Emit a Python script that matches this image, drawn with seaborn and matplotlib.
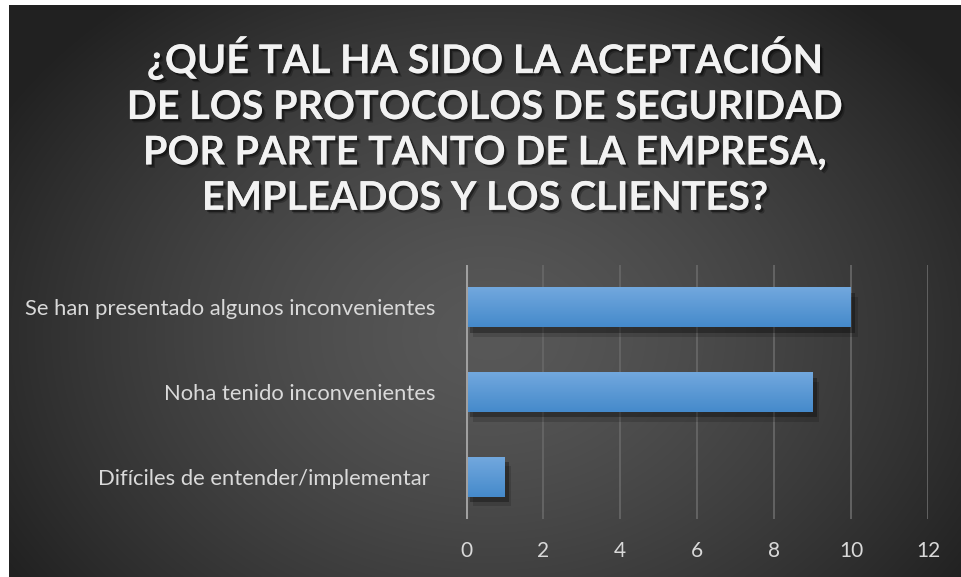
import numpy as np
import pandas as pd
import matplotlib
matplotlib.use("Agg")
import matplotlib.pyplot as plt
import matplotlib.patheffects as pe
import seaborn as sns

categories = [
    "Se han presentado algunos inconvenientes",
    "Noha tenido inconvenientes",
    "Difíciles de entender/implementar ",
]
values = [10, 9, 1]
x_ticks = [0, 2, 4, 6, 8, 10, 12]
title = ("¿QUÉ TAL HA SIDO LA ACEPTACIÓN\nDE LOS PROTOCOLOS DE SEGURIDAD\n"
         "POR PARTE TANTO DE LA EMPRESA,\nEMPLEADOS Y LOS CLIENTES?")

sns.set_theme(style="dark")
plt.rcParams["font.family"] = ["Lato", "DejaVu Sans"]

W, H = 961, 577
fig = plt.figure(figsize=(W / 100, H / 100), dpi=100)
fig.patch.set_facecolor("white")

# background with radial gradient
bg = fig.add_axes([9 / W, 0, 1 - 9 / W, 1 - 5 / H])
bg.set_axis_off()
yy, xx = np.mgrid[0:572, 0:952]
cx, cy = 480, 330
d = np.sqrt(((xx - cx) / 560.0) ** 2 + ((yy - cy) / 430.0) ** 2)
lum = np.clip(0.345 - 0.21 * d ** 1.4, 0.13, 1)
img = np.dstack([lum, lum, lum])
bg.imshow(img, aspect="auto", extent=[0, 1, 0, 1], origin="upper")
bg.set_xlim(0, 1)
bg.set_ylim(0, 1)

ax = fig.add_axes([466 / W, 1 - 519 / H, (928 - 466) / W, (519 - 265) / H])
ax.patch.set_alpha(0)

df = pd.DataFrame({"cat": categories, "val": values})
sns.barplot(data=df, x="val", y="cat", orient="h", color="#5b9bd5",
            width=0.47, ax=ax, zorder=3, saturation=1)

ax.set_xlim(0, 12)
ax.set_ylim(2.5, -0.5)
ax.set_xticks(x_ticks)
ax.set_xticklabels([str(t) for t in x_ticks])
ax.set_xlabel("")
ax.set_ylabel("")
ax.grid(False)
for t in x_ticks[1:]:
    ax.axvline(t, color="#666666", lw=1.3, zorder=1)
ax.axvline(0, color="#a0a0a0", lw=2.2, zorder=4)
for s in ax.spines.values():
    s.set_visible(False)
ax.tick_params(axis="both", length=0, colors="#d9d9d9")
ax.tick_params(axis="x", pad=16, labelsize=15)
ax.tick_params(axis="y", pad=22, labelsize=15.8)

# gradient fill + shadow on bars
grad = np.linspace(0, 1, 100).reshape(-1, 1)
top = np.array([0x72, 0xa8, 0xde]) / 255
bot = np.array([0x45, 0x8a, 0xcb]) / 255
gimg = top[None, None, :] * (1 - grad[:, :, None]) + bot[None, None, :] * grad[:, :, None]
for p in list(ax.patches):
    x0, y0 = p.get_x(), p.get_y()
    w, h = p.get_width(), p.get_height()
    p.set_path_effects([
        pe.SimplePatchShadow(offset=(5, -7), shadow_rgbFace="black", alpha=0.15),
        pe.SimplePatchShadow(offset=(3, -4), shadow_rgbFace="black", alpha=0.3),
        pe.Normal()])
    p.set_edgecolor("none")
    im = ax.imshow(gimg, extent=[x0, x0 + w, y0 + h, y0], aspect="auto", zorder=3.5,
                   origin="upper")
    im.set_clip_path(p)
ax.set_xlim(0, 12)
ax.set_ylim(2.5, -0.5)

fig.text(486 / W, 1 - 126 / H, title, ha="center", va="center", color="#f2f2f2",
         fontsize=28.5, fontweight="bold", linespacing=1.28,
         path_effects=[
             pe.withSimplePatchShadow(offset=(2.5, -2.5), shadow_rgbFace="black", alpha=0.25),
             pe.withSimplePatchShadow(offset=(1.5, -1.5), shadow_rgbFace="black", alpha=0.4)])

fig.savefig("out.png", dpi=100, facecolor="white")
